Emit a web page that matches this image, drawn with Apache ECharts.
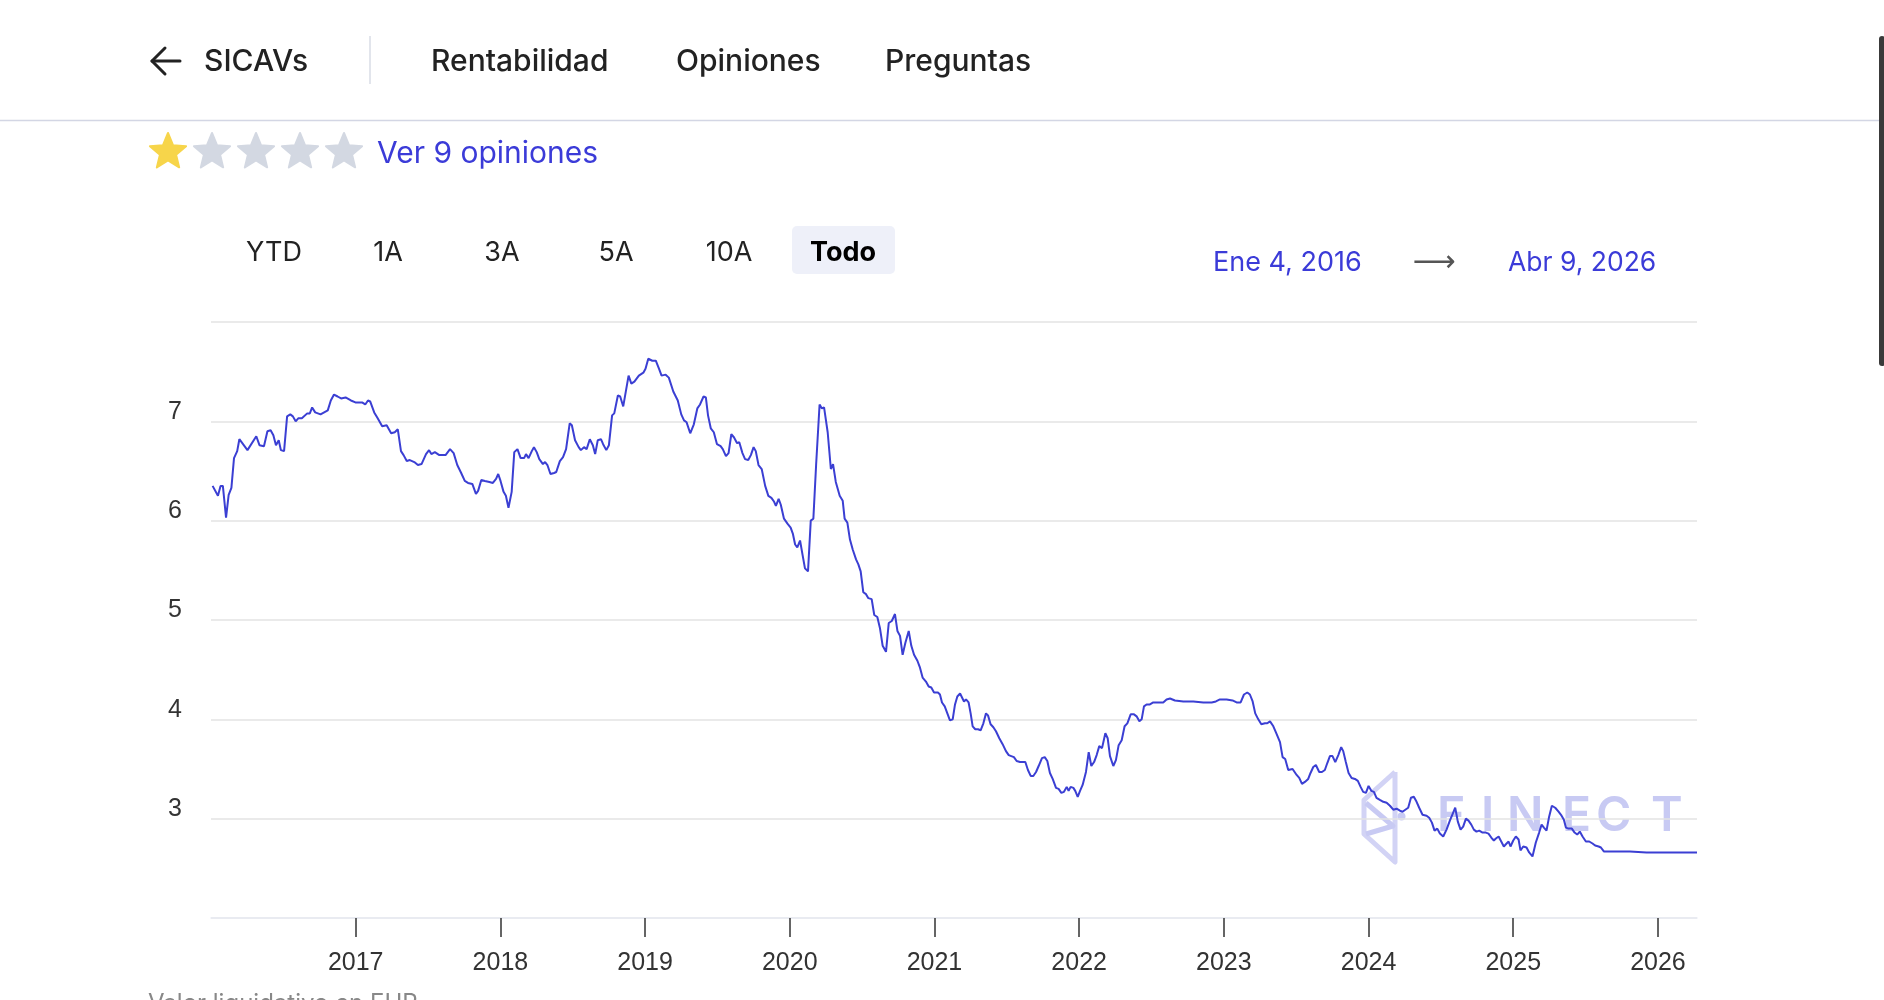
<!DOCTYPE html>
<html>
<head>
<meta charset="utf-8">
<script src="https://cdn.jsdelivr.net/npm/echarts@6/dist/echarts.min.js"></script>
<style>
html,body{margin:0;padding:0;background:#fff;}
#chart{width:1884px;height:1000px;}
</style>
</head>
<body>
<div id="chart"></div>
<script>
// ---- Data (decimal year, NAV in EUR) ----
var years = [
2016.011,2016.048,2016.066,2016.082,2016.104,2016.122,2016.141,2016.159,2016.181,2016.196,
2016.252,2016.313,2016.335,2016.366,2016.390,2016.412,2016.431,2016.449,2016.468,2016.483,
2016.505,2016.526,2016.548,2016.566,2016.585,2016.603,2016.628,2016.665,2016.683,2016.699,
2016.720,2016.757,2016.807,2016.828,2016.850,2016.875,2016.899,2016.930,2016.967,2016.998,
2017.044,2017.066,2017.085,2017.100,2017.128,2017.152,2017.183,2017.214,2017.245,2017.270,
2017.291,2017.313,2017.331,2017.353,2017.374,2017.405,2017.430,2017.455,2017.467,2017.486,
2017.507,2017.523,2017.547,2017.578,2017.600,2017.621,2017.652,2017.677,2017.702,2017.729,
2017.754,2017.776,2017.806,2017.831,2017.846,2017.868,2017.893,2017.924,2017.948,2017.970,
2017.985,2018.001,2018.022,2018.038,2018.056,2018.078,2018.096,2018.118,2018.140,2018.164,
2018.177,2018.195,2018.217,2018.232,2018.251,2018.269,2018.294,2018.309,2018.325,2018.346,
2018.371,2018.386,2018.411,2018.433,2018.454,2018.479,2018.494,2018.516,2018.541,2018.556,
2018.578,2018.596,2018.618,2018.639,2018.655,2018.673,2018.695,2018.710,2018.732,2018.750,
2018.772,2018.787,2018.812,2018.828,2018.849,2018.886,2018.905,2018.926,2018.957,2018.988,
2019.003,2019.022,2019.050,2019.074,2019.096,2019.114,2019.142,2019.164,2019.195,2019.226,
2019.250,2019.269,2019.287,2019.312,2019.337,2019.361,2019.380,2019.404,2019.420,2019.435,
2019.454,2019.475,2019.497,2019.522,2019.537,2019.559,2019.577,2019.596,2019.614,2019.636,
2019.651,2019.673,2019.691,2019.713,2019.731,2019.750,2019.765,2019.784,2019.806,2019.830,
2019.852,2019.873,2019.892,2019.904,2019.923,2019.938,2019.960,2019.984,2020.006,2020.021,
2020.037,2020.052,2020.071,2020.089,2020.105,2020.126,2020.145,2020.163,2020.182,2020.206,
2020.222,2020.237,2020.262,2020.284,2020.299,2020.318,2020.345,
2020.366,2020.379,2020.398,2020.416,2020.435,2020.458,2020.474,2020.490,2020.508,2020.527,
2020.543,2020.566,2020.584,2020.605,2020.623,2020.642,2020.665,2020.684,2020.705,2020.727,
2020.744,2020.762,2020.780,2020.799,2020.822,2020.840,2020.859,2020.882,2020.900,2020.918,
2020.941,2020.960,2020.978,2020.997,2021.024,2021.038,2021.052,2021.071,2021.089,2021.107,
2021.126,2021.142,2021.158,2021.177,2021.190,2021.204,2021.218,2021.236,2021.250,2021.264,
2021.282,2021.301,2021.319,2021.338,2021.356,2021.370,2021.388,2021.407,2021.425,2021.448,
2021.471,2021.494,2021.513,2021.531,2021.549,2021.568,2021.591,2021.609,2021.628,2021.646,
2021.665,2021.683,2021.702,2021.720,2021.743,2021.762,2021.780,2021.798,2021.817,2021.840,
2021.858,2021.877,2021.895,2021.914,2021.927,2021.941,2021.960,2021.973,2021.990,2022.006,
2022.024,2022.047,2022.066,2022.084,2022.103,2022.121,2022.139,2022.158,2022.181,2022.197,
2022.213,2022.236,2022.254,2022.273,2022.294,2022.314,2022.333,2022.356,2022.379,2022.397,
2022.416,2022.432,2022.448,2022.466,2022.489,2022.512,2022.547,2022.581,2022.604,2022.628,
2022.662,2022.720,2022.789,2022.858,2022.916,2022.945,2022.973,2023.019,2023.060,2023.088,
2023.116,2023.139,2023.162,2023.180,2023.199,2023.217,2023.238,2023.259,2023.284,2023.300,
2023.319,2023.342,2023.365,
2023.388,2023.406,2023.424,2023.445,2023.475,2023.503,2023.521,2023.540,2023.560,2023.583,
2023.599,2023.618,2023.636,2023.659,2023.678,2023.698,2023.715,2023.733,2023.751,2023.770,
2023.791,2023.811,2023.825,2023.843,2023.862,2023.883,2023.906,2023.926,2023.945,2023.963,
2023.982,2024.000,2024.019,2024.037,2024.055,2024.078,2024.102,2024.125,2024.148,2024.171,
2024.194,2024.217,2024.235,2024.254,2024.274,2024.293,2024.313,2024.332,2024.350,2024.373,
2024.401,2024.419,2024.438,2024.456,2024.475,2024.493,2024.516,2024.539,2024.562,2024.585,
2024.599,2024.617,2024.636,2024.654,2024.673,2024.691,2024.710,2024.728,2024.746,2024.765,
2024.788,2024.811,2024.829,2024.848,2024.866,2024.880,2024.899,2024.917,2024.935,2024.954,
2024.968,2024.981,2025.000,2025.018,2025.037,2025.050,2025.069,2025.092,2025.110,2025.133,
2025.156,2025.179,2025.196,2025.212,2025.230,2025.248,2025.267,2025.290,2025.313,2025.334,
2025.350,2025.364,2025.382,2025.405,2025.424,2025.442,2025.460,2025.479,2025.502,2025.525,
2025.548,2025.566,2025.590,2025.606,2025.626,2025.691,2025.806,2025.921,2026.036,2026.152,
2026.270
];
var navs = [
6.35,6.25,6.35,6.35,6.03,6.26,6.33,6.63,6.70,6.82,
6.71,6.85,6.76,6.75,6.90,6.91,6.86,6.76,6.81,6.71,
6.70,7.05,7.07,7.05,7.00,7.03,7.03,7.08,7.08,7.14,
7.09,7.07,7.11,7.21,7.27,7.25,7.23,7.24,7.21,7.19,
7.19,7.17,7.21,7.20,7.09,7.03,6.95,6.96,6.88,6.89,
6.92,6.70,6.66,6.60,6.61,6.59,6.56,6.57,6.56,6.67,
6.71,6.67,6.69,6.66,6.66,6.66,6.72,6.68,6.56,6.48,
6.40,6.38,6.37,6.27,6.30,6.41,6.40,6.39,6.38,6.42,
6.47,6.40,6.29,6.25,6.13,6.29,6.69,6.72,6.63,6.63,
6.67,6.63,6.70,6.74,6.69,6.62,6.57,6.59,6.56,6.47,
6.48,6.49,6.60,6.64,6.72,6.98,6.96,6.81,6.74,6.71,
6.74,6.72,6.82,6.76,6.67,6.81,6.82,6.77,6.71,6.76,
7.06,7.08,7.26,7.25,7.15,7.46,7.38,7.40,7.46,7.49,
7.53,7.63,7.61,7.61,7.53,7.46,7.47,7.44,7.30,7.21,
7.07,7.01,6.99,6.88,6.97,7.13,7.17,7.25,7.24,7.06,
6.93,6.89,6.77,6.75,6.72,6.65,6.68,6.87,6.84,6.78,
6.79,6.68,6.62,6.61,6.66,6.74,6.70,6.56,6.52,6.35,
6.25,6.23,6.19,6.15,6.22,6.16,6.02,5.97,5.93,5.87,
5.76,5.73,5.80,5.65,5.52,5.49,6.00,6.02,6.56,7.17,
7.13,7.14,6.89,6.52,6.57,6.39,6.25,
6.20,6.02,5.98,5.81,5.71,5.61,5.56,5.49,5.28,5.26,
5.22,5.21,5.05,5.03,4.92,4.74,4.68,4.97,4.99,5.06,
4.89,4.84,4.65,4.77,4.89,4.74,4.65,4.59,4.52,4.42,
4.38,4.33,4.32,4.27,4.27,4.25,4.17,4.13,4.06,3.99,
4.00,4.15,4.23,4.26,4.25,4.18,4.20,4.17,4.06,3.93,
3.90,3.90,3.89,3.96,4.06,4.04,3.95,3.92,3.88,3.81,
3.75,3.68,3.64,3.63,3.62,3.58,3.57,3.57,3.57,3.49,
3.43,3.43,3.47,3.53,3.61,3.62,3.58,3.46,3.40,3.31,
3.30,3.26,3.27,3.32,3.28,3.32,3.31,3.28,3.22,3.28,
3.34,3.47,3.67,3.53,3.57,3.64,3.73,3.71,3.86,3.81,
3.63,3.53,3.59,3.74,3.79,3.93,3.96,4.05,4.05,4.03,
3.98,4.00,4.13,4.15,4.15,4.17,4.17,4.17,4.20,4.21,
4.19,4.18,4.18,4.17,4.17,4.18,4.20,4.20,4.19,4.17,
4.17,4.25,4.27,4.25,4.18,4.06,4.00,3.95,3.96,3.96,
3.98,3.93,3.85,
3.77,3.62,3.60,3.49,3.50,3.44,3.41,3.35,3.37,3.40,
3.46,3.52,3.54,3.47,3.47,3.49,3.56,3.63,3.63,3.57,
3.64,3.72,3.68,3.57,3.46,3.41,3.40,3.38,3.32,3.27,
3.26,3.33,3.28,3.27,3.21,3.19,3.17,3.16,3.13,3.09,
3.10,3.08,3.07,3.09,3.11,3.21,3.22,3.17,3.11,3.04,
3.03,3.01,2.96,2.88,2.90,2.85,2.82,2.89,2.98,3.06,
3.11,2.97,2.89,2.92,3.00,2.98,2.94,2.89,2.87,2.88,
2.86,2.86,2.85,2.81,2.78,2.80,2.82,2.77,2.72,2.75,
2.77,2.72,2.78,2.82,2.79,2.68,2.72,2.71,2.66,2.62,
2.76,2.86,2.94,2.91,2.88,3.02,3.13,3.11,3.07,3.03,
2.99,2.91,2.90,2.90,2.86,2.84,2.87,2.82,2.77,2.77,
2.75,2.73,2.72,2.71,2.67,2.67,2.67,2.66,2.66,2.66,
2.66
];
var xTickYears = [2017,2018,2019,2020,2021,2022,2023,2024,2025,2026];
var yTickValues = [3,4,5,6,7];
var navTabs = ['Rentabilidad','Opiniones','Preguntas'];
var rangeButtons = ['YTD','1A','3A','5A','10A','Todo'];
var startDate = 'Ene 4, 2016';
var endDate = 'Abr 9, 2026';
var ratingStars = 1;
var opinionsText = 'Ver 9 opiniones';
var watermarkLetters = ['F','I','N','E','C','T'];

var seriesData = years.map(function(y,i){ return [y, navs[i]]; });

var headerFont = 'Inter, "Noto Sans", sans-serif';
var axisFont = '"Liberation Sans", Arial, sans-serif';

function starPoints(cx, cy, R, r){
  var pts = [];
  for (var k=0;k<10;k++){
    var rad = (k%2===0)?R:r;
    var ang = -Math.PI/2 + k*Math.PI/5;
    pts.push([cx + rad*Math.cos(ang), cy + rad*Math.sin(ang)]);
  }
  return pts;
}

var graphics = [];
// back arrow
graphics.push({type:'polyline', shape:{points:[[165,48],[152,61],[165,74]]}, style:{stroke:'#222',lineWidth:3,fill:null,lineCap:'round',lineJoin:'round'}});
graphics.push({type:'line', shape:{x1:152,y1:61,x2:180,y2:61}, style:{stroke:'#222',lineWidth:3,lineCap:'round'}});
graphics.push({type:'text', x:204, y:62, style:{text:'SICAVs', font:'500 30px '+headerFont, fill:'#222', textVerticalAlign:'middle'}});
graphics.push({type:'line', shape:{x1:370,y1:36,x2:370,y2:84}, style:{stroke:'#d9dce6',lineWidth:1.5}});
var tabX = [431,676,885];
navTabs.forEach(function(t,i){
  graphics.push({type:'text', x:tabX[i], y:62, style:{text:t, font:'500 30px '+headerFont, fill:'#222', textVerticalAlign:'middle'}});
});
graphics.push({type:'line', shape:{x1:0,y1:120.5,x2:1880,y2:120.5}, style:{stroke:'#d3d6e4',lineWidth:1.5}});
graphics.push({type:'rect', shape:{x:1879,y:36,width:6,height:330,r:3}, style:{fill:'#3a3a3a'}});
// stars
var starCx = [168,212,256,300,344];
starCx.forEach(function(cx,i){
  graphics.push({type:'polygon', shape:{points:starPoints(cx,152,19,8.5)}, style:{fill:i<ratingStars?'#f7d54a':'#d3d8e2', stroke:i<ratingStars?'#f7d54a':'#d3d8e2', lineWidth:2, lineJoin:'round'}});
});
graphics.push({type:'text', x:377, y:154, style:{text:opinionsText, font:'400 30px '+headerFont, fill:'#3b3bd8', textVerticalAlign:'middle'}});
// range buttons
var btnX = [274,388,502,616,729,843];
graphics.push({type:'rect', shape:{x:792,y:226,width:103,height:48,r:5}, style:{fill:'#eef0f9'}});
rangeButtons.forEach(function(b,i){
  var last = i===rangeButtons.length-1;
  graphics.push({type:'text', x:btnX[i], y:253, style:{text:b, font:(last?'700 ':'400 ')+'27px '+headerFont, fill:last?'#000':'#222', textAlign:'center', textVerticalAlign:'middle'}});
});
graphics.push({type:'text', x:1213, y:263, style:{text:startDate, font:'400 27px '+headerFont, fill:'#3b3bd8', textVerticalAlign:'middle'}});
graphics.push({type:'text', x:1434, y:263, style:{text:'\u27F6', font:'400 30px "DejaVu Sans", sans-serif', fill:'#555', textAlign:'center', textVerticalAlign:'middle'}});
graphics.push({type:'text', x:1508, y:263, style:{text:endDate, font:'400 26.5px '+headerFont, fill:'#3b3bd8', textVerticalAlign:'middle'}});
// bottom caption (cut off)
graphics.push({type:'text', x:148, y:992, style:{text:'Valor liquidativo en EUR', font:'400 24px '+headerFont, fill:'#888', textVerticalAlign:'top'}});
// watermark logo
var wm = '#c8caf3';
graphics.push({type:'polyline', z:0, shape:{points:[[1395,772],[1364,800],[1364,834],[1395,862],[1395,772]]}, style:{stroke:'#d2d3f5',lineWidth:5,fill:null,lineJoin:'round'}});
graphics.push({type:'polyline', z:0, shape:{points:[[1366,803],[1393,826],[1366,834]]}, style:{stroke:wm,lineWidth:5,fill:null,lineJoin:'round'}});
graphics.push({type:'circle', z:0, shape:{cx:1401.5,cy:816.5,r:4}, style:{fill:wm}});
var wmX = [1437,1481,1507,1562,1596,1651];
watermarkLetters.forEach(function(l,i){
  graphics.push({type:'text', z:0, x:wmX[i], y:817, style:{text:l, font:'600 48px Inter, sans-serif', fill:wm, textVerticalAlign:'middle'}});
});

var chart = echarts.init(document.getElementById('chart'));
chart.setOption({
  animation:false,
  backgroundColor:'#fff',
  grid:{left:211,right:187,top:322,bottom:82,containLabel:false},
  xAxis:{
    type:'value', min:2016, max:2026.27,
    axisLine:{show:true, lineStyle:{color:'#e9ebf4', width:1.5}},
    axisTick:{show:true, customValues:xTickYears, length:19, lineStyle:{color:'#333', width:1.5}},
    axisLabel:{customValues:xTickYears, formatter:function(v){return String(Math.round(v));}, color:'#333', fontSize:25, fontFamily:axisFont, margin:33},
    splitLine:{show:false}
  },
  yAxis:{
    type:'value', min:2, max:8, interval:1,
    axisLine:{show:false}, axisTick:{show:false},
    axisLabel:{customValues:yTickValues, color:'#333', fontSize:25, fontFamily:axisFont, margin:29, verticalAlign:'bottom', padding:[0,0,-3,0]},
    splitLine:{show:true, lineStyle:{color:'#e3e3e3', width:1.5}}
  },
  graphic:{elements:graphics},
  series:[{
    type:'line', data:seriesData, showSymbol:false, symbol:'none', z:5,
    lineStyle:{color:'#3b3fd3', width:2}, emphasis:{disabled:true}
  }]
});
</script>
</body>
</html>
